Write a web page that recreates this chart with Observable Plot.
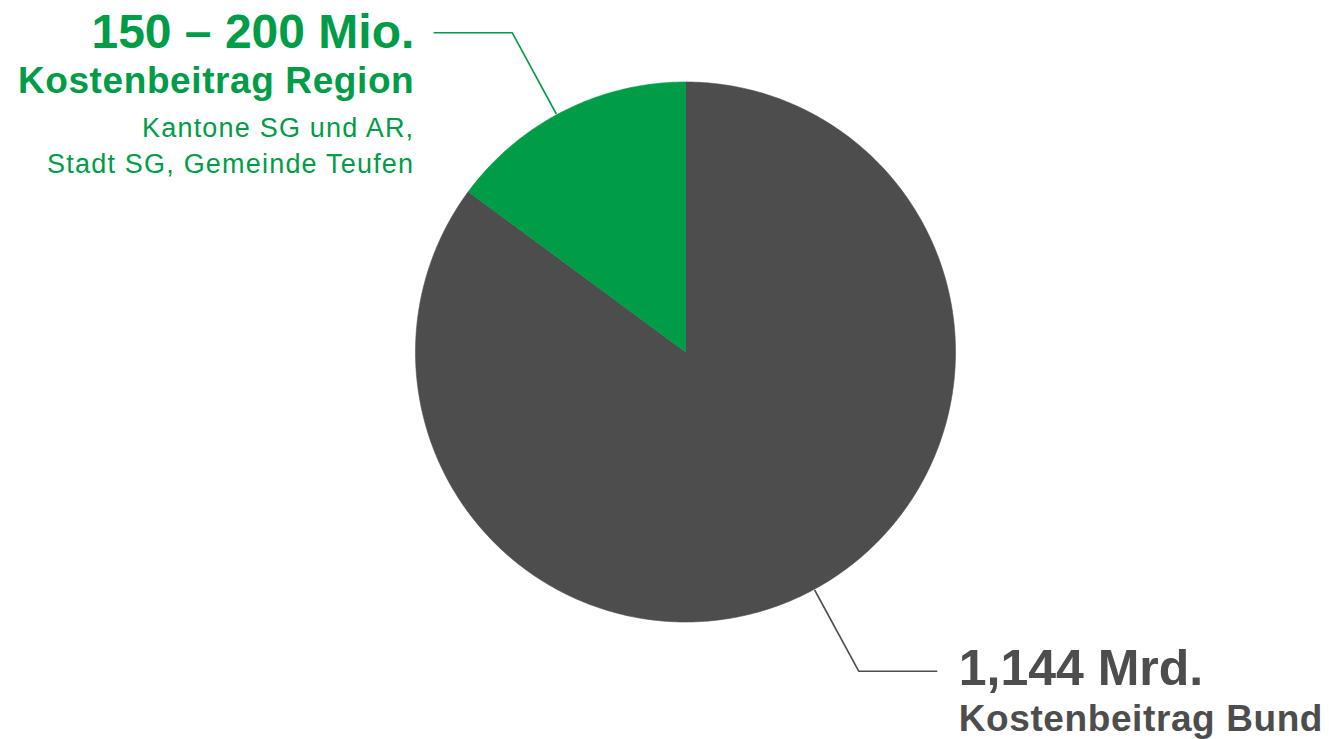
<!DOCTYPE html>
<html>
<head>
<meta charset="utf-8">
<script src="https://cdn.jsdelivr.net/npm/d3@7"></script>
<script src="https://cdn.jsdelivr.net/npm/@observablehq/plot@0.6"></script>
<style>
  html, body { margin: 0; padding: 0; background: #ffffff; }
  #chart svg { display: block; }
</style>
</head>
<body>
<div id="chart"></div>
<script>
// ---- data ----
const categories = ["Kostenbeitrag Bund", "Kostenbeitrag Region"];
const values = [1144, 200];
const valueLabels = ["1,144 Mrd.", "150 – 200 Mio."];
const detailLines = [[], ["Kantone SG und AR,", "Stadt SG, Gemeinde Teufen"]];
const sliceColors = ["#4d4d4d", "#009c48"];
const textColors = ["#4d4d4d", "#009c48"];

// ---- layout ----
const W = 1329, H = 739;
const cx = 685, cy = 351.5, R = 270;       // pie centre and radius (px)
const elbowR = 1.345;                       // leader elbow radius (in radii)
const leaderTurn = -1.7 * Math.PI / 180;    // leader rotation vs. slice mid-angle
const leaderFlat = 78 / R;                  // horizontal leader length

const arcs = d3.pie().sort(null).value(d => d)(values);

// slice polygons in unit-circle coordinates (x = sin a, y = cos a)
const slices = arcs.map((a, i) => {
  const pts = [{x: 0, y: 0}];
  const n = Math.max(8, Math.ceil((a.endAngle - a.startAngle) / (Math.PI / 360)));
  for (let k = 0; k <= n; k++) {
    const t = a.startAngle + (a.endAngle - a.startAngle) * k / n;
    pts.push({x: Math.sin(t), y: Math.cos(t)});
  }
  pts.push({x: 0, y: 0});
  return pts.map(p => ({...p, cat: categories[i]}));
});

// leaders and labels
const leaders = [];
const labels = [];
arcs.forEach((a, i) => {
  const m = (a.startAngle + a.endAngle) / 2 + leaderTurn;
  const side = Math.sin(m) >= 0 ? 1 : -1;
  const p0 = {x: Math.sin(m) * 1.005, y: Math.cos(m) * 1.005};
  const p1 = {x: Math.sin(m) * elbowR, y: Math.cos(m) * elbowR};
  const p2 = {x: p1.x + side * leaderFlat, y: p1.y};
  [p0, p1, p2].forEach(p => leaders.push({...p, cat: categories[i]}));
  const lx = p2.x + side * (side > 0 ? 22 : 20) / R;
  const anchor = side > 0 ? "start" : "end";
  labels.push({x: lx, y: p2.y, text: valueLabels[i], size: side > 0 ? 50 : 48, weight: "bold", dy: side > 0 ? 13.5 : 14.7, anchor, color: textColors[i], ls: 0});
  labels.push({x: lx, y: p2.y, text: categories[i], size: 37, weight: "bold", dy: side > 0 ? 60 : 59.7, anchor, color: textColors[i], ls: 0.6});
  detailLines[i].forEach((t, j) => {
    labels.push({x: lx, y: p2.y, text: t, size: 27, weight: "normal", dy: 104.5 + j * 35.7, anchor, color: textColors[i], ls: 1.2});
  });
});

const font = "'Liberation Sans', Arial, Helvetica, sans-serif";

const marks = [];
arcs.forEach((a, i) => {
  marks.push(Plot.line(leaders.filter(d => d.cat === categories[i]), {
    x: "x", y: "y", stroke: sliceColors[i], strokeWidth: 1.6, curve: "linear"
  }));
});
slices.forEach((s, i) => {
  marks.push(Plot.line(s, {x: "x", y: "y", fill: sliceColors[i], stroke: sliceColors[i], strokeWidth: 0.6, curve: "linear"}));
});
labels.forEach(l => {
  marks.push(Plot.text([l], {
    x: "x", y: "y", text: "text", textAnchor: l.anchor, lineAnchor: "bottom",
    dy: l.dy, fontSize: l.size, fontWeight: l.weight, fill: l.color, fontFamily: font,
    render(index, scales, values, dims, context, next) {
      const g = next(index, scales, values, dims, context);
      if (l.ls) g.querySelectorAll("text").forEach(t => t.style.letterSpacing = l.ls + "px");
      return g;
    }
  }));
});

const chart = Plot.plot({
  width: W, height: H,
  margin: 0,
  x: {domain: [-cx / R, (W - cx) / R], range: [0, W], axis: null},
  y: {domain: [(cy - H) / R, cy / R], range: [H, 0], axis: null},
  style: {fontFamily: font, background: "#ffffff", overflow: "visible"},
  marks
});
document.getElementById("chart").appendChild(chart);
</script>
</body>
</html>
